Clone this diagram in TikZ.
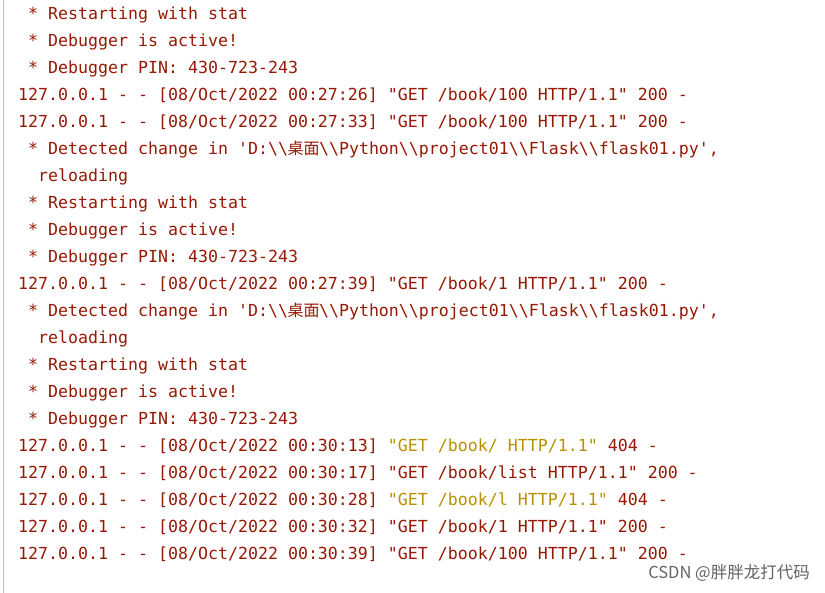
\documentclass[tikz,border=0pt]{standalone}
\usepackage{fontspec}
\setmonofont{DejaVu Sans Mono}
\newfontfamily\cjk{Noto Sans CJK SC}
\definecolor{logred}{RGB}{150,25,5}
\definecolor{loggold}{RGB}{185,145,0}
\definecolor{wm}{RGB}{100,100,100}
\newcommand{\zh}[1]{\makebox[31pt][c]{\cjk\fontsize{16}{16}\selectfont #1}}
\newcommand{\bs}{\textbackslash}
\tikzset{ln/.style={anchor=base west,inner sep=0pt,text=logred,font=\ttfamily\fontsize{16.6}{20}\selectfont}}
\begin{document}
\begin{tikzpicture}[x=1pt,y=1pt]
\useasboundingbox (0,0) rectangle (825,593);
\fill[white] (0,0) rectangle (825,593);
\draw[gray!50,line width=1pt] (3,0) -- (3,593);
\def\L#1#2{\node[ln] (l#1) at (18,{573-27*(#1-1)}) {#2};}
\L{1}{\ * Restarting with stat}
\L{2}{\ * Debugger is active!}
\L{3}{\ * Debugger PIN: 430-723-243}
\L{4}{127.0.0.1 - - [08/Oct/2022 00:27:26] "GET /book/100 HTTP/1.1" 200 -}
\L{5}{127.0.0.1 - - [08/Oct/2022 00:27:33] "GET /book/100 HTTP/1.1" 200 -}
\L{6}{\ * Detected change in 'D:\bs\bs\zh{桌面}\bs\bs Python\bs\bs project01\bs\bs Flask\bs\bs flask01.py',}
\L{7}{\ \ reloading}
\L{8}{\ * Restarting with stat}
\L{9}{\ * Debugger is active!}
\L{10}{\ * Debugger PIN: 430-723-243}
\L{11}{127.0.0.1 - - [08/Oct/2022 00:27:39] "GET /book/1 HTTP/1.1" 200 -}
\L{12}{\ * Detected change in 'D:\bs\bs\zh{桌面}\bs\bs Python\bs\bs project01\bs\bs Flask\bs\bs flask01.py',}
\L{13}{\ \ reloading}
\L{14}{\ * Restarting with stat}
\L{15}{\ * Debugger is active!}
\L{16}{\ * Debugger PIN: 430-723-243}
\L{17}{127.0.0.1 - - [08/Oct/2022 00:30:13] \textcolor{loggold}{"GET /book/ HTTP/1.1"} 404 -}
\L{18}{127.0.0.1 - - [08/Oct/2022 00:30:17] "GET /book/list HTTP/1.1" 200 -}
\L{19}{127.0.0.1 - - [08/Oct/2022 00:30:28] \textcolor{loggold}{"GET /book/l HTTP/1.1"} 404 -}
\L{20}{127.0.0.1 - - [08/Oct/2022 00:30:32] "GET /book/1 HTTP/1.1" 200 -}
\L{21}{127.0.0.1 - - [08/Oct/2022 00:30:39] "GET /book/100 HTTP/1.1" 200 -}
\node[anchor=east,inner sep=0pt,text=wm,font=\cjk\fontsize{16.5}{16.5}\selectfont] (wmk) at (810,20) {CSDN @胖胖龙打代码};
\end{tikzpicture}
\end{document}
